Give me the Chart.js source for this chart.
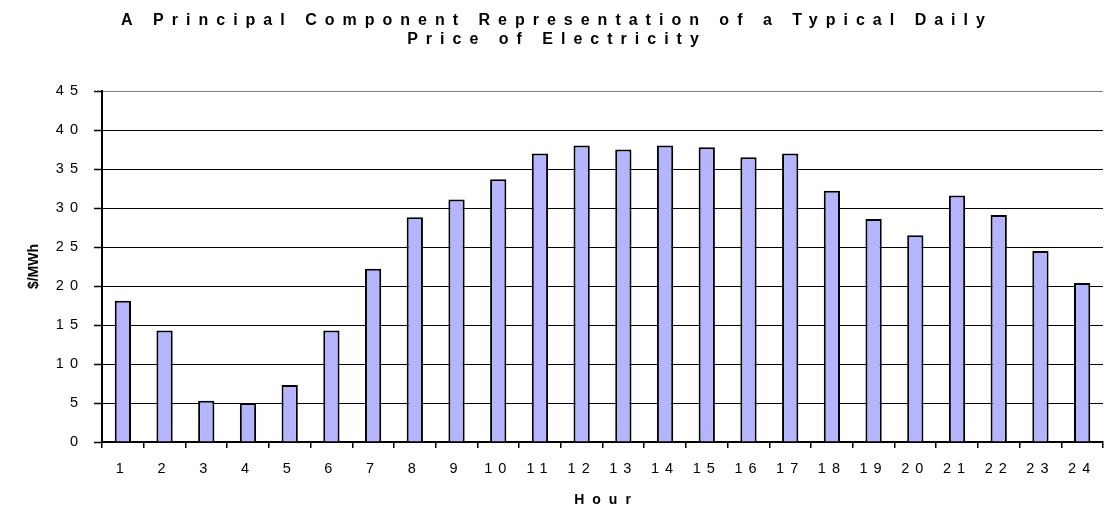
<!DOCTYPE html>
<html>
<head>
<meta charset="utf-8">
<script src="https://cdn.jsdelivr.net/npm/chart.js@4/dist/chart.umd.min.js"></script>
<style>
  html, body { margin: 0; padding: 0; background: #fff; }
  #wrap { width: 1110px; height: 512px; }
</style>
</head>
<body>
<div id="wrap"><canvas id="c" width="1110" height="512"></canvas></div>
<script>
// Hour of the day and the matching price level
const hours = ['1','2','3','4','5','6','7','8','9','10','11','12','13','14','15','16','17','18','19','20','21','22','23','24'];
const prices = [18.1, 14.3, 5.3, 5.0, 7.3, 14.3, 22.2, 28.8, 31.1, 33.7, 37.0, 38.0, 37.5, 38.0, 37.8, 36.5, 37.0, 32.2, 28.6, 26.5, 31.6, 29.1, 24.5, 20.4];

// Value axis range
const yMin = 0;
const yMax = 45;
const yStep = 5;

// Texts
const titleLines = ['A Principal Component Representation of a Typical Daily', 'Price of Electricity'];
const yAxisTitle = '$/MWh';
const xAxisTitle = 'Hour';

const FONT = '"Liberation Sans", Arial, Helvetica, sans-serif';

// Wide letter spacing for tick labels; titles are painted afterwards
const spacedText = {
  id: 'spacedText',
  beforeDraw(chart) {
    chart.ctx.letterSpacing = '6px';
  },
  afterDraw(chart) {
    const ctx = chart.ctx;
    const area = chart.chartArea;
    ctx.save();
    ctx.fillStyle = '#000';
    ctx.textAlign = 'center';
    ctx.textBaseline = 'middle';

    // chart title
    ctx.font = 'bold 16px ' + FONT;
    ctx.letterSpacing = '8px';
    titleLines.forEach((t, i) => ctx.fillText(t, 557, 21 + i * 19));

    // x axis title, centred under the plot
    ctx.font = 'bold 14px ' + FONT;
    ctx.letterSpacing = '8px';
    ctx.fillText(xAxisTitle, (area.left + area.right) / 2 + 4, 500);

    // y axis title, centred beside the plot
    ctx.letterSpacing = '0px';
    ctx.translate(34, (area.top + area.bottom) / 2);
    ctx.rotate(-Math.PI / 2);
    ctx.fillText(yAxisTitle, 0, 0);
    ctx.restore();
    ctx.letterSpacing = '0px';
  }
};

new Chart(document.getElementById('c'), {
  type: 'bar',
  data: {
    labels: hours,
    datasets: [{
      data: prices,
      backgroundColor: '#b4b4ff',
      borderColor: '#000',
      borderWidth: 2,
      categoryPercentage: 1,
      barPercentage: 0.39
    }]
  },
  options: {
    responsive: false,
    animation: false,
    devicePixelRatio: 1,
    layout: { padding: { top: 91, right: 7, bottom: 0, left: 0 } },
    plugins: {
      legend: { display: false },
      tooltip: { enabled: false },
      title: { display: false }
    },
    scales: {
      x: {
        offset: true,
        grid: {
          offset: true,
          drawOnChartArea: false,
          drawTicks: true,
          tickLength: 6,
          color: '#000',
          lineWidth: 1.5
        },
        border: { color: '#000', width: 2 },
        ticks: {
          color: '#000',
          padding: 12,
          maxRotation: 0,
          autoSkip: false,
          font: { family: FONT, size: 14.5 }
        },
        afterFit(scale) { scale.height = 70; }
      },
      y: {
        min: yMin,
        max: yMax,
        ticks: {
          stepSize: yStep,
          color: '#000',
          padding: 10,
          font: { family: FONT, size: 14.5 }
        },
        grid: {
          color: (c) => (c.tick && c.tick.value === yMax ? '#808080' : '#000'),
          lineWidth: 1,
          tickLength: 8,
          tickColor: '#000',
          tickWidth: 1.5
        },
        border: { color: '#000', width: 2 },
        afterFit(scale) { scale.width = 102; }
      }
    }
  },
  plugins: [spacedText]
});
</script>
</body>
</html>
